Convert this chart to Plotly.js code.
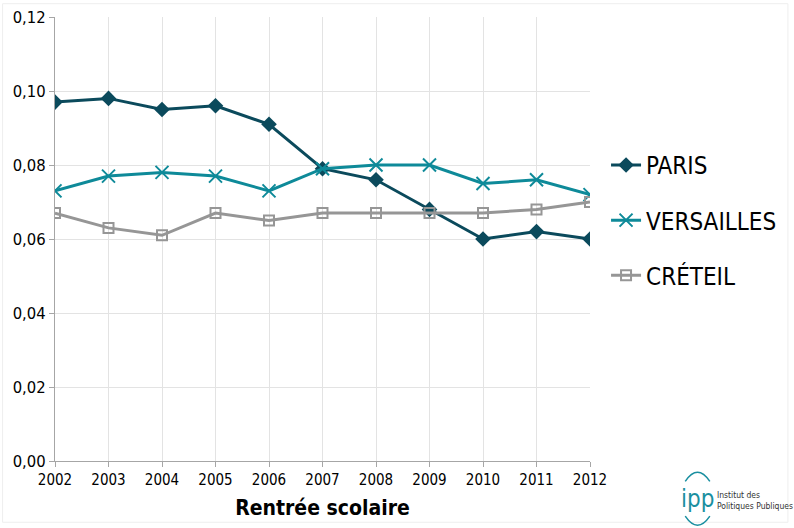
<!DOCTYPE html>
<html><head><meta charset="utf-8">
<script src="https://cdn.plot.ly/plotly-3.0.1.min.js"></script>
<style>body{margin:0;background:#fff}#c{width:794px;height:528px}</style>
</head><body><div id="c"></div>
<script>
const years = ['2002','2003','2004','2005','2006','2007','2008','2009','2010','2011','2012'];
const paris = [0.097,0.098,0.095,0.096,0.091,0.079,0.076,0.068,0.060,0.062,0.060];
const versailles = [0.073,0.077,0.078,0.077,0.073,0.079,0.080,0.080,0.075,0.076,0.072];
const creteil = [0.067,0.063,0.061,0.067,0.065,0.067,0.067,0.067,0.067,0.068,0.070];
const yTicks = [0,0.02,0.04,0.06,0.08,0.10,0.12];

const F = '"DejaVu Sans Condensed", "DejaVu Sans", sans-serif';
const traces = [
 {x: years, y: paris, name: 'PARIS', mode: 'lines+markers', legendgroup:'a',
  line:{color:'#0b4a5c', width:3}, marker:{symbol:'diamond', size:12, color:'#0b4a5c'}},
 {x: years, y: versailles, name: 'VERSAILLES', mode: 'lines+markers', legendgroup:'b',
  line:{color:'#0e8a99', width:3}, marker:{symbol:'x-thin', size:13, color:'#0e8a99', line:{color:'#0e8a99', width:2}}},
 {x: years, y: creteil, name: 'CRÉTEIL', mode: 'lines+markers', legendgroup:'c',
  line:{color:'#969696', width:3}, marker:{symbol:'square-open', size:10, color:'#969696', line:{width:2}}}
];
const layout = {
 width:794, height:528, separators:', ',
 margin:{l:55, r:202, t:17, b:67},
 paper_bgcolor:'#fff', plot_bgcolor:'#fff',
 font:{family:F, color:'#000', size:15},
 xaxis:{type:'category', range:[0,10], showgrid:true, gridcolor:'#e3e3e3', gridwidth:1,
   showline:true, linecolor:'#a6a6a6', linewidth:1, ticks:'outside', ticklen:5, tickcolor:'#a6a6a6',
   tickfont:{family:F, size:15}, zeroline:false,
   title:{text:'<b>Rentrée scolaire</b>', font:{family:F, size:21}, standoff:12}},
 yaxis:{range:[0,0.12], tickvals:yTicks, tickformat:'.2f', showgrid:true, gridcolor:'#e3e3e3',
   showline:true, linecolor:'#a6a6a6', linewidth:1, ticks:'outside', ticklen:5, tickcolor:'#a6a6a6',
   tickfont:{family:F, size:16.5}, zeroline:false},
 legend:{x:1.03, xanchor:'left', y:0.542, yanchor:'middle', font:{family:F, size:24},
   tracegroupgap:21, itemwidth:30, bgcolor:'rgba(0,0,0,0)'},
 annotations:[
  {xref:'paper', yref:'paper', x:1.201, y:-0.085, xanchor:'center', yanchor:'middle', showarrow:false,
   text:'ipp', font:{family:F, size:24, color:'#1a8fa0'}},
  {xref:'paper', yref:'paper', x:1.234, y:-0.088, xanchor:'left', yanchor:'middle', showarrow:false, align:'left',
   text:'Institut des<br>Politiques Publiques', font:{family:F, size:8.5, color:'#333'}}
 ],
 shapes:[
  {type:'rect', xref:'paper', yref:'paper', x0:-0.098, x1:1.37, y0:-0.138, y1:1.03, line:{color:'#eeeeee', width:1}},
  {type:'path', xref:'paper', yref:'paper', path:'M 1.178,-0.046 Q 1.201,-0.005 1.224,-0.046', line:{color:'#1a8fa0', width:1.5}},
  {type:'path', xref:'paper', yref:'paper', path:'M 1.178,-0.124 Q 1.201,-0.165 1.224,-0.124', line:{color:'#1a8fa0', width:1.5}}
 ]
};
Plotly.newPlot('c', traces, layout, {displayModeBar:false, staticPlot:true});
</script></body></html>
